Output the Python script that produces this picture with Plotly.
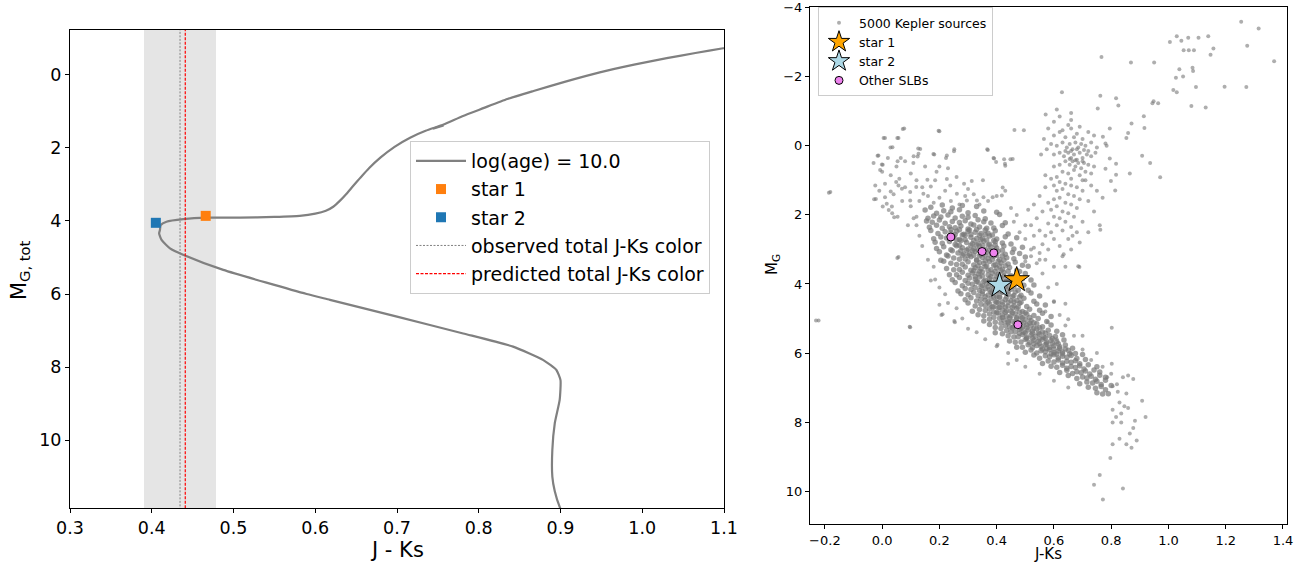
import plotly.graph_objects as go

# ---------------- Left panel data (isochrone, stars) ----------------
iso_jk = [0.905, 0.899, 0.893, 0.890, 0.890, 0.893, 0.899, 0.900, 0.895, 0.879, 0.842, 0.781,
          0.700, 0.618, 0.5895, 0.4875, 0.439, 0.4223, 0.412, 0.409, 0.410, 0.411, 0.418, 0.4386,
          0.467, 0.508, 0.550, 0.581, 0.600, 0.613, 0.622, 0.630, 0.638, 0.646, 0.655, 0.666,
          0.680, 0.697, 0.716, 0.735, 0.757, 0.780, 0.8056, 0.835, 0.867, 0.905, 0.948, 0.990,
          1.030, 1.065, 1.099, 1.13]
iso_mg = [12.10, 11.83, 11.40, 11.00, 10.27, 9.54, 8.90, 8.36, 8.08, 7.81, 7.44, 7.08,
          6.62, 6.16, 6.00, 5.34, 4.93, 4.75, 4.52, 4.34, 4.25, 4.11, 4.02, 3.95,
          3.91, 3.91, 3.89, 3.86, 3.80, 3.72, 3.61, 3.45, 3.26, 3.05, 2.82, 2.55,
          2.26, 1.97, 1.72, 1.53, 1.36, 1.13, 0.91, 0.66, 0.44, 0.19, -0.07, -0.28,
          -0.46, -0.60, -0.73, -0.84]
iso_blip_jk = [0.744, 0.757]
iso_blip_mg = [1.47, 1.385]

star1_jk_left, star1_mg_left = [0.466], [3.86]
star2_jk_left, star2_mg_left = [0.405], [4.05]
obs_color = 0.4346
pred_color = 0.441
color_band = [0.3905, 0.4786]

left_xticks = [0.3, 0.4, 0.5, 0.6, 0.7, 0.8, 0.9, 1.0, 1.1]
left_xtick_text = ["0.3", "0.4", "0.5", "0.6", "0.7", "0.8", "0.9", "1.0", "1.1"]
left_yticks = [0, 2, 4, 6, 8, 10]

# ---------------- Right panel data (Kepler CMD) ----------------
kepler_ms_rows = [
    (0.17,1.78),(0.21,1.71),(0.245,1.80),(0.28,1.73),(0.33,1.76),
    (0.15,1.86),(0.19,1.95),(0.215,1.88),(0.24,1.91),(0.27,1.85),(0.30,1.94),(0.355,1.89),(0.40,1.92),
    (0.16,2.10),(0.18,2.03),(0.205,2.06),(0.23,2.00),(0.255,2.09),(0.28,2.04),(0.30,2.07),(0.325,2.02),(0.36,2.11),(0.41,1.99),
    (0.155,2.18),(0.175,2.21),(0.2,2.15),(0.22,2.24),(0.245,2.19),(0.27,2.22),(0.29,2.17),(0.31,2.26),(0.335,2.14),(0.355,2.20),(0.38,2.235),(0.43,2.23),
    (0.165,2.36),(0.19,2.30),(0.21,2.39),(0.235,2.34),(0.255,2.37),(0.275,2.32),(0.30,2.41),(0.32,2.29),(0.34,2.35),(0.365,2.385),(0.39,2.38),(0.42,2.31),
    (0.17,2.45),(0.195,2.54),(0.22,2.49),(0.24,2.52),(0.26,2.47),(0.285,2.56),(0.305,2.44),(0.325,2.50),(0.345,2.535),(0.37,2.53),(0.395,2.46),(0.44,2.55),
    (0.18,2.69),(0.205,2.64),(0.225,2.67),(0.25,2.62),(0.27,2.71),(0.29,2.59),(0.31,2.65),(0.33,2.685),(0.35,2.68),(0.375,2.61),(0.40,2.70),(0.43,2.63),(0.47,2.66),
    (0.185,2.79),(0.21,2.82),(0.235,2.77),(0.255,2.86),(0.275,2.74),(0.295,2.80),(0.315,2.835),(0.335,2.83),(0.355,2.76),(0.375,2.85),(0.395,2.78),(0.42,2.81),(0.45,2.84),
    (0.19,2.97),(0.215,2.92),(0.24,3.01),(0.26,2.89),(0.28,2.95),(0.30,2.985),(0.32,2.98),(0.34,2.91),(0.36,3.00),(0.38,2.93),(0.40,2.96),(0.425,2.90),(0.46,2.99),(0.49,2.94),
    (0.2,3.07),(0.225,3.16),(0.245,3.04),(0.265,3.10),(0.285,3.135),(0.305,3.13),(0.325,3.06),(0.345,3.15),(0.365,3.08),(0.385,3.11),(0.405,3.05),(0.43,3.14),(0.455,3.09),(0.48,3.12),
    (0.205,3.31),(0.23,3.19),(0.25,3.25),(0.27,3.285),(0.29,3.28),(0.31,3.21),(0.33,3.30),(0.35,3.23),(0.37,3.26),(0.39,3.20),(0.41,3.29),(0.435,3.24),(0.46,3.27),(0.5,3.22),
    (0.215,3.34),(0.24,3.40),(0.26,3.435),(0.28,3.43),(0.30,3.36),(0.32,3.45),(0.34,3.38),(0.355,3.41),(0.375,3.35),(0.395,3.44),(0.415,3.39),(0.44,3.42),(0.465,3.37),(0.49,3.46),
    (0.225,3.55),(0.25,3.585),(0.27,3.58),(0.29,3.51),(0.31,3.60),(0.325,3.53),(0.345,3.56),(0.36,3.50),(0.38,3.59),(0.40,3.54),(0.42,3.57),(0.445,3.52),(0.47,3.61),(0.51,3.49),
    (0.235,3.735),(0.26,3.73),(0.28,3.66),(0.30,3.75),(0.315,3.68),(0.335,3.71),(0.35,3.65),(0.37,3.74),(0.385,3.69),(0.405,3.72),(0.425,3.67),(0.45,3.76),(0.48,3.64),(0.5,3.70),
    (0.245,3.88),(0.27,3.81),(0.29,3.90),(0.305,3.83),(0.325,3.86),(0.34,3.80),(0.36,3.89),(0.375,3.84),(0.395,3.87),(0.415,3.82),(0.435,3.91),(0.455,3.79),(0.49,3.85),(0.52,3.885),
    (0.255,3.96),(0.28,4.05),(0.30,3.98),(0.315,4.01),(0.335,3.95),(0.35,4.04),(0.365,3.99),(0.385,4.02),(0.40,3.97),(0.42,4.06),(0.44,3.94),(0.465,4.00),(0.495,4.035),(0.53,4.03),
    (0.265,4.20),(0.29,4.13),(0.31,4.16),(0.325,4.10),(0.34,4.19),(0.36,4.14),(0.375,4.17),(0.39,4.12),(0.41,4.21),(0.43,4.09),(0.45,4.15),(0.475,4.185),(0.51,4.18),
    (0.275,4.28),(0.30,4.31),(0.32,4.25),(0.335,4.34),(0.35,4.29),(0.37,4.32),(0.385,4.27),(0.40,4.36),(0.42,4.24),(0.44,4.30),(0.46,4.335),(0.485,4.33),(0.52,4.26),(0.55,4.35),
    (0.29,4.46),(0.31,4.40),(0.33,4.49),(0.345,4.44),(0.36,4.47),(0.38,4.42),(0.395,4.51),(0.41,4.39),(0.43,4.45),(0.45,4.485),(0.47,4.48),(0.495,4.41),(0.53,4.50),
    (0.30,4.55),(0.325,4.64),(0.345,4.59),(0.36,4.62),(0.375,4.57),(0.39,4.66),(0.405,4.54),(0.42,4.60),(0.44,4.635),(0.46,4.63),(0.48,4.56),(0.505,4.65),(0.54,4.58),(0.57,4.61),
    (0.315,4.79),(0.34,4.74),(0.36,4.77),(0.375,4.72),(0.39,4.81),(0.405,4.69),(0.42,4.75),(0.435,4.785),(0.45,4.78),(0.47,4.71),(0.49,4.80),(0.515,4.73),(0.55,4.76),
    (0.335,4.89),(0.355,4.92),(0.375,4.87),(0.39,4.96),(0.405,4.84),(0.42,4.90),(0.435,4.935),(0.45,4.93),(0.465,4.86),(0.485,4.95),(0.505,4.88),(0.53,4.91),(0.56,4.85),(0.59,4.94),
    (0.355,5.07),(0.375,5.02),(0.395,5.11),(0.41,4.99),(0.425,5.05),(0.44,5.085),(0.455,5.08),(0.47,5.01),(0.485,5.10),(0.50,5.03),(0.52,5.06),(0.545,5.00),(0.575,5.09),
    (0.375,5.17),(0.395,5.26),(0.415,5.14),(0.43,5.20),(0.445,5.235),(0.46,5.23),(0.475,5.16),(0.49,5.25),(0.505,5.18),(0.52,5.21),(0.54,5.15),(0.56,5.24),(0.59,5.19),
    (0.395,5.41),(0.415,5.29),(0.435,5.35),(0.45,5.385),(0.465,5.38),(0.48,5.31),(0.495,5.40),(0.51,5.33),(0.525,5.36),(0.54,5.30),(0.56,5.39),(0.58,5.34),(0.61,5.37),
    (0.42,5.44),(0.44,5.50),(0.46,5.535),(0.475,5.53),(0.49,5.46),(0.505,5.55),(0.52,5.48),(0.535,5.51),(0.55,5.45),(0.565,5.54),(0.585,5.49),(0.605,5.52),(0.63,5.47),
    (0.445,5.65),(0.465,5.685),(0.485,5.68),(0.50,5.61),(0.515,5.70),(0.53,5.63),(0.545,5.66),(0.56,5.60),(0.575,5.69),(0.59,5.64),(0.61,5.67),(0.635,5.62),
    (0.47,5.835),(0.49,5.83),(0.51,5.76),(0.525,5.85),(0.54,5.78),(0.555,5.81),(0.57,5.75),(0.585,5.84),(0.60,5.79),(0.62,5.82),(0.64,5.77),(0.665,5.86),
    (0.50,5.98),(0.52,5.91),(0.54,6.00),(0.555,5.93),(0.57,5.96),(0.585,5.90),(0.60,5.99),(0.615,5.94),(0.63,5.97),(0.65,5.92),(0.675,6.01),
    (0.53,6.06),(0.55,6.15),(0.57,6.08),(0.585,6.11),(0.60,6.05),(0.615,6.14),(0.63,6.09),(0.645,6.12),(0.66,6.07),(0.68,6.16),(0.70,6.04),
    (0.56,6.30),(0.58,6.23),(0.60,6.26),(0.615,6.20),(0.63,6.29),(0.645,6.24),(0.66,6.27),(0.675,6.22),(0.69,6.31),(0.71,6.19),
    (0.59,6.38),(0.61,6.41),(0.63,6.35),(0.645,6.44),(0.66,6.39),(0.675,6.42),(0.69,6.37),(0.705,6.46),(0.72,6.34),(0.75,6.40),
    (0.62,6.56),(0.645,6.50),(0.665,6.59),(0.68,6.54),(0.695,6.57),(0.71,6.52),(0.725,6.61),(0.74,6.49),(0.76,6.55),
    (0.65,6.65),(0.68,6.74),(0.70,6.69),(0.715,6.72),(0.73,6.67),(0.745,6.76),(0.76,6.64),(0.78,6.70),
    (0.69,6.89),(0.715,6.84),(0.735,6.87),(0.75,6.82),(0.765,6.91),(0.78,6.79),
    (0.72,6.99),(0.745,7.02),(0.765,6.97),(0.78,7.06),(0.80,6.94),
    (0.75,7.15),(0.77,7.185),(0.79,7.18),
]
kepler_ms_core = [
    (0.24,2.42),(0.27,2.43),(0.30,2.47),(0.33,2.42),(0.36,2.44),
    (0.255,2.57),(0.28,2.58),(0.31,2.57),(0.34,2.59),(0.36,2.57),(0.385,2.58),
    (0.26,2.73),(0.29,2.72),(0.32,2.74),(0.345,2.72),(0.365,2.73),(0.39,2.74),
    (0.27,2.88),(0.31,2.88),(0.33,2.87),(0.35,2.88),(0.37,2.87),(0.395,2.88),
    (0.275,3.03),(0.295,3.02),(0.315,3.03),(0.335,3.02),(0.355,3.03),(0.375,3.02),(0.395,3.03),(0.42,3.02),
    (0.28,3.17),(0.30,3.18),(0.32,3.17),(0.34,3.18),(0.36,3.17),(0.38,3.18),(0.40,3.17),(0.42,3.18),
    (0.33,3.32),(0.36,3.33),(0.385,3.30),(0.405,3.34),(0.425,3.31),
    (0.335,3.47),(0.365,3.48),(0.39,3.46),(0.41,3.49),(0.43,3.47),
    (0.32,3.62),(0.34,3.63),(0.37,3.61),(0.395,3.64),(0.415,3.62),(0.44,3.63),
    (0.325,3.78),(0.35,3.77),(0.38,3.79),(0.40,3.78),(0.425,3.77),(0.445,3.78),
    (0.33,3.93),(0.355,3.92),(0.375,3.94),(0.41,3.93),(0.43,3.92),(0.455,3.93),
    (0.345,4.07),(0.37,4.08),(0.395,4.07),(0.415,4.08),(0.44,4.07),(0.46,4.08),
    (0.35,4.22),(0.38,4.23),(0.40,4.22),(0.42,4.23),(0.44,4.22),(0.465,4.23),
    (0.36,4.37),(0.39,4.38),(0.41,4.37),(0.435,4.38),(0.455,4.37),(0.48,4.38),
    (0.37,4.52),(0.40,4.53),(0.42,4.52),(0.44,4.53),(0.46,4.52),(0.485,4.53),
    (0.385,4.67),(0.41,4.68),(0.43,4.67),(0.455,4.68),(0.475,4.67),
    (0.40,4.83),(0.43,4.82),(0.455,4.83),(0.48,4.82),(0.50,4.83),
    (0.42,4.97),(0.445,4.98),(0.47,4.97),(0.49,4.98),(0.515,4.97),
    (0.44,5.12),(0.465,5.13),(0.495,5.12),(0.515,5.13),(0.53,5.12),
    (0.455,5.27),(0.485,5.28),(0.505,5.27),(0.53,5.28),(0.55,5.27),
    (0.48,5.43),(0.50,5.42),(0.525,5.43),(0.545,5.42),(0.57,5.43),
    (0.505,5.58),(0.525,5.57),(0.55,5.58),(0.57,5.57),(0.595,5.58),
    (0.53,5.73),(0.55,5.72),(0.575,5.73),(0.595,5.72),(0.615,5.73),
    (0.56,5.88),(0.575,5.87),(0.60,5.88),(0.62,5.87),(0.64,5.88),
    (0.59,6.02),(0.61,6.03),(0.63,6.02),(0.655,6.03),
]
kepler_ms_edges = [
    (0.12,2.3),(0.13,2.6),(0.14,2.9),(0.11,2.1),(0.16,3.3),(0.18,3.5),(0.17,3.9),(0.20,4.1),
    (0.22,4.3),(0.2,4.6),(0.23,4.55),(0.26,4.7),(0.28,5.0),(0.30,5.3),(0.33,5.4),(0.36,5.6),
    (0.4,5.8),(0.44,6.0),(0.47,6.2),(0.5,6.4),(0.55,6.6),(0.6,6.8),(0.65,7.0),
    (0.52,3.0),(0.55,3.3),(0.56,3.7),(0.58,4.1),(0.6,4.5),(0.62,4.9),(0.64,5.2),(0.67,5.5),
    (0.7,5.9),(0.73,6.2),(0.77,6.4),(0.8,6.6),(0.82,6.9),(0.53,2.6),(0.5,2.3),(0.47,2.0),
    (0.45,1.8),(0.57,4.8),(0.61,5.6),(0.66,6.0),(0.75,6.0),(0.7,5.5),(0.61,4.0),(0.64,4.57),
    (0.65,5.02),(0.6,4.52),(0.578,5.10),(0.685,3.49),
]
kepler_subgiants = [
    (0.50,3.35),(0.52,3.2),(0.54,3.4),(0.55,3.1),(0.53,2.95),(0.56,2.85),(0.58,3.0),(0.57,2.6),
    (0.55,2.45),(0.59,2.5),(0.60,2.7),(0.62,2.9),(0.58,2.25),(0.61,2.3),(0.63,2.45),(0.60,2.05),
    (0.62,2.1),(0.64,2.2),(0.66,2.35),(0.59,1.85),(0.61,1.75),(0.63,1.9),(0.65,1.95),(0.67,2.05),
    (0.60,1.55),(0.62,1.5),(0.64,1.65),(0.66,1.7),(0.68,1.8),(0.61,1.3),(0.63,1.25),(0.65,1.4),
    (0.67,1.45),(0.69,1.55),(0.62,1.05),(0.64,1.1),(0.66,1.15),(0.68,1.2),(0.70,1.3),(0.72,1.6),
    (0.56,1.9),(0.54,2.1),(0.52,2.3),(0.57,3.3),(0.60,3.5),(0.63,3.2),(0.65,2.7),(0.68,2.5),
    (0.70,2.2),(0.74,1.9),(0.71,1.0),(0.73,1.15),(0.53,1.7),(0.55,1.45),(0.57,1.2),(0.51,1.85),
    (0.48,2.5),(0.50,2.7),(0.46,2.2),(0.58,1.65),(0.60,1.15),(0.59,0.95),(0.57,0.85),(0.75,1.3),
    (0.77,1.5),(0.66,3.0),(0.64,3.5),(0.69,2.8),(0.72,2.5),(0.76,2.3),
]
kepler_clump = [
    (0.60,-0.3),(0.62,-0.4),(0.64,-0.25),(0.66,-0.5),(0.68,-0.35),(0.70,-0.2),(0.72,-0.4),(0.65,-0.6),(0.69,-0.55),
    (0.59,-0.05),(0.61,0.0),(0.63,-0.1),(0.645,0.05),(0.655,-0.05),(0.665,0.1),(0.675,-0.1),(0.685,0.05),
    (0.695,-0.05),(0.71,0.0),(0.73,-0.1),(0.75,0.05),
    (0.60,0.25),(0.62,0.2),(0.635,0.3),(0.65,0.2),(0.66,0.35),(0.67,0.25),(0.68,0.4),(0.69,0.2),(0.70,0.35),
    (0.715,0.25),(0.73,0.3),(0.745,0.2),(0.64,0.45),
    (0.655,0.55),(0.665,0.45),(0.675,0.6),(0.685,0.5),(0.695,0.65),(0.705,0.5),(0.72,0.55),(0.74,0.6),(0.62,0.55),(0.60,0.6),
    (0.63,0.75),(0.65,0.8),(0.67,0.7),(0.69,0.85),(0.71,0.75),(0.73,0.8),(0.61,0.9),(0.66,0.95),(0.70,1.0),
    (0.68,0.1),(0.66,0.15),(0.70,0.45),(0.64,0.15),(0.72,0.15),(0.675,0.42),(0.655,0.38),(0.705,0.12),
    (0.67,-0.25),(0.63,-0.45),(0.74,-0.3),(0.565,-0.2),(0.575,0.1),(0.555,0.25),(0.58,-0.5),(0.60,-0.7),
    (0.62,-0.85),(0.66,-0.75),(0.66,-0.95),
]
kepler_sparse_upper = [
    (0.077,-0.50),(0.010,-0.23),(0.057,-0.23),(0.200,-0.42),(0.036,0.04),(-0.013,0.28),(0.002,0.55),
    (0.054,0.45),(0.065,0.35),(-0.007,0.70),(-0.024,1.15),(-0.022,1.54),(0.010,1.49),(0.030,1.32),
    (0.057,1.15),(0.069,1.24),(0.049,1.05),(0.034,1.76),(0.054,2.05),(0.016,1.68),(0.133,0.09),
    (0.109,0.50),(0.127,0.23),(0.182,0.25),(0.226,0.28),(0.251,0.16),(0.200,0.60),(0.158,0.98),
    (0.119,1.19),(0.098,1.34),(0.098,1.58),(0.144,1.39),(0.170,1.18),(0.185,1.00),(0.226,0.96),
    (0.238,1.15),(0.261,1.39),(0.286,1.10),(0.313,1.02),(0.352,1.00),(0.369,0.12),(0.389,0.35),
    (0.398,0.47),(0.426,0.39),(0.456,0.38),(0.462,-0.46),(0.429,0.52),(0.421,1.21),(0.386,1.49),
    (0.418,1.44),(0.354,1.49),(0.331,1.58),(0.296,1.58),(-0.181,1.34),(0.057,3.22),(0.098,5.25),
    (-0.222,5.06),(0.211,4.88),(0.252,5.07),
    (0.0,0.75),(0.03,0.85),(0.06,0.95),(0.08,1.2),(0.04,1.4),(0.01,1.1),(0.1,0.8),(0.12,1.0),
    (0.14,1.2),(0.16,1.45),(0.13,1.6),(0.1,1.75),(0.18,1.65),(0.2,1.5),(0.22,1.3),(0.24,1.6),
    (0.27,1.7),(0.29,1.45),(0.05,0.6),(0.08,0.45),(0.11,0.3),(0.15,0.6),(0.19,0.75),(0.23,0.65),
    (0.26,0.9),(0.3,1.25),(0.32,1.4),(0.34,1.7),(0.37,1.6),(0.4,1.45),(0.43,1.3),(0.02,0.35),
    (-0.03,0.5),(0.07,1.6),(-0.01,1.3),(0.035,1.95),(0.12,2.05),(0.09,2.3),
]
kepler_giants = [
    (1.254,-3.59),(1.315,-3.40),(1.275,-2.90),(1.369,-2.45),(1.005,-3.01),(1.029,-3.17),(1.045,-3.04),
    (1.069,-3.13),(1.105,-3.13),(1.139,-3.17),(1.053,-2.77),(1.071,-2.77),(1.089,-2.77),(1.157,-2.82),
    (1.147,-2.64),(1.084,-2.26),(1.086,-2.17),(1.038,-2.22),(1.051,-2.01),(1.026,-1.97),(1.096,-1.70),
    (1.196,-1.71),(1.272,-1.70),(1.017,-1.62),(1.029,-1.55),(1.080,-1.15),(1.130,-1.11),(0.948,-1.29),
    (0.944,-1.23),(0.964,-1.23),(0.950,-2.41),(0.869,-2.41),(0.766,-2.57),(0.628,-1.55),(0.762,-1.45),
    (0.817,-1.38),(0.753,-1.08),(0.825,-1.17),(0.610,-1.05),(0.571,-0.91),(0.914,-0.86),(0.871,-0.65),
    (0.916,-0.52),(0.859,-0.37),(0.853,-0.23),(0.795,-0.50),(0.771,-0.26),(0.780,-0.07),(0.784,0.0),
    (0.908,0.29),(0.936,0.50),(0.971,0.91),(0.865,0.80),(0.817,0.52),(0.817,0.84),(0.795,0.37),
    (0.780,0.66),(0.814,1.29),(0.799,1.02),(0.495,-0.45),(0.448,0.39),(0.430,0.58),(0.391,0.37),
    (0.367,0.10),(0.252,0.10),(0.223,0.35),(0.197,-0.44),(0.179,0.24),(0.126,0.08),(0.124,0.31),
    (0.072,-0.49),(0.053,-0.23),(0.029,0.05),(0.005,-0.23),(-0.016,0.29),(-0.001,0.54),(-0.028,1.55),
    (0.002,1.76),(0.023,1.86),(0.042,2.07),(-0.186,1.36),(-0.231,5.06),(0.096,5.24),(0.053,3.25),
    (0.185,3.87),(0.207,4.90),(0.254,5.11),(0.403,5.76),(0.440,6.31),(0.762,2.43),(0.689,3.51),
    (0.634,3.14),(0.665,2.60),(0.802,5.27),(0.802,6.31),
]
kepler_lower_ms = [
    (0.786,6.70),(0.805,6.96),(0.823,7.12),(0.841,6.70),(0.859,6.65),(0.877,6.75),(0.853,7.17),
    (0.829,7.43),(0.846,7.54),(0.859,7.59),(0.805,7.64),(0.817,7.85),(0.835,7.75),(0.908,7.38),
    (0.920,7.85),(0.883,7.96),(0.877,8.17),(0.889,8.53),(0.871,8.74),(0.853,8.64),(0.829,8.48),
    (0.805,8.64),(0.835,8.01),(0.805,8.01),(0.797,9.04),(0.760,9.53),(0.740,9.81),(0.841,9.92),
    (0.771,10.24),(0.865,8.33),
]

star1_jk, star1_mg = [0.470], [3.88]
star2_jk, star2_mg = [0.410], [4.04]
slb_jk = [0.240, 0.349, 0.390, 0.474]
slb_mg = [2.64, 3.06, 3.10, 5.18]

right_xticks = [-0.2, 0.0, 0.2, 0.4, 0.6, 0.8, 1.0, 1.2, 1.4]
right_xtick_text = ["\u22120.2", "0.0", "0.2", "0.4", "0.6", "0.8", "1.0", "1.2", "1.4"]
right_yticks = [-4, -2, 0, 2, 4, 6, 8, 10]
right_ytick_text = ["\u22124", "\u22122", "0", "2", "4", "6", "8", "10"]

kepler_dense = kepler_ms_rows + kepler_ms_core
kepler_rest = (kepler_ms_edges + kepler_subgiants + kepler_clump + kepler_sparse_upper +
               kepler_giants + kepler_lower_ms)

FONT = "DejaVu Sans"
W, H = 1315, 568


def fx(px):
    return px / W


def fy(py):
    return 1 - py / H


fig = go.Figure()

# ---- left panel ----
fig.add_trace(go.Scatter(x=iso_jk, y=iso_mg, mode="lines", name="log(age) = 10.0", legendgroup="a",
                         line=dict(color="#808080", width=2.2, shape="spline", smoothing=0.5),
                         xaxis="x", yaxis="y", legend="legend"))
fig.add_trace(go.Scatter(x=iso_blip_jk, y=iso_blip_mg, mode="lines", showlegend=False, legendgroup="a",
                         line=dict(color="#808080", width=2.2), xaxis="x", yaxis="y", legend="legend"))
fig.add_trace(go.Scatter(x=star1_jk_left, y=star1_mg_left, mode="markers", name="star 1", legendgroup="b",
                         marker=dict(symbol="square", size=10, color="#ff7f0e"), xaxis="x", yaxis="y", legend="legend"))
fig.add_trace(go.Scatter(x=star2_jk_left, y=star2_mg_left, mode="markers", name="star 2", legendgroup="c",
                         marker=dict(symbol="square", size=10, color="#1f77b4"), xaxis="x", yaxis="y", legend="legend"))
fig.add_trace(go.Scatter(x=[obs_color, obs_color], y=[-3, 14], mode="lines", name="observed total J-Ks color",
                         legendgroup="d",
                         line=dict(color="#808080", width=1, dash="2px,1.5px"), xaxis="x", yaxis="y", legend="legend"))
fig.add_trace(go.Scatter(x=[pred_color, pred_color], y=[-3, 14], mode="lines", name="predicted total J-Ks color",
                         legendgroup="e",
                         line=dict(color="#ff0000", width=1.2, dash="3px,1.5px"), xaxis="x", yaxis="y", legend="legend"))

# ---- right panel ----
fig.add_trace(go.Scatter(x=[p[0] for p in kepler_rest], y=[p[1] for p in kepler_rest], mode="markers",
                         name="5000 Kepler sources", legendgroup="k",
                         marker=dict(size=4, color="rgba(120,120,120,0.6)", line=dict(width=0)),
                         xaxis="x2", yaxis="y2", legend="legend2"))
fig.add_trace(go.Scatter(x=[p[0] for p in kepler_dense], y=[p[1] for p in kepler_dense], mode="markers",
                         name="5000 Kepler sources", legendgroup="k", showlegend=False,
                         marker=dict(size=5.5, color="rgba(120,120,120,0.7)", line=dict(width=0)),
                         xaxis="x2", yaxis="y2", legend="legend2"))
fig.add_trace(go.Scatter(x=star1_jk, y=star1_mg, mode="markers", name="star 1", legendgroup="s1",
                         marker=dict(symbol="star", size=19, color="orange", line=dict(color="black", width=1)),
                         xaxis="x2", yaxis="y2", legend="legend2"))
fig.add_trace(go.Scatter(x=star2_jk, y=star2_mg, mode="markers", name="star 2", legendgroup="s2",
                         marker=dict(symbol="star", size=19, color="lightblue", line=dict(color="black", width=1)),
                         xaxis="x2", yaxis="y2", legend="legend2"))
fig.add_trace(go.Scatter(x=slb_jk, y=slb_mg, mode="markers", name="Other SLBs", legendgroup="o",
                         marker=dict(symbol="circle", size=8, color="violet", line=dict(color="black", width=1)),
                         xaxis="x2", yaxis="y2", legend="legend2"))

axis_common = dict(showline=True, linecolor="black", linewidth=1, mirror=True, ticks="outside",
                   ticklen=4, tickwidth=1, tickcolor="black", showgrid=False, zeroline=False,
                   automargin=False)

fig.update_layout(
    template="none",
    width=W, height=H,
    margin=dict(l=0, r=0, t=0, b=0, pad=0, autoexpand=False),
    paper_bgcolor="white", plot_bgcolor="white",
    font=dict(family=FONT, color="black"),
    xaxis=dict(domain=[fx(70), fx(724)], range=[0.3, 1.1], tickvals=left_xticks, ticktext=left_xtick_text,
               tickfont=dict(size=17.5), anchor="y", **axis_common),
    yaxis=dict(domain=[fy(508), fy(30)], range=[11.86, -1.23], tickvals=left_yticks,
               tickfont=dict(size=17.5), anchor="x", **axis_common),
    xaxis2=dict(domain=[fx(810), fx(1287)], range=[-0.252, 1.414], tickvals=right_xticks, ticktext=right_xtick_text,
                tickfont=dict(size=13), anchor="y2", **axis_common),
    yaxis2=dict(domain=[fy(524), fy(7)], range=[10.95, -4.02], tickvals=right_yticks, ticktext=right_ytick_text,
                tickfont=dict(size=13), anchor="x2", **axis_common),
    legend=dict(x=fx(410), y=fy(141), xanchor="left", yanchor="top", bgcolor="white",
                bordercolor="#cccccc", borderwidth=1, font=dict(size=19, family=FONT),
                itemwidth=50, tracegroupgap=0.5),
    legend2=dict(x=fx(818), y=fy(7), xanchor="left", yanchor="top", bgcolor="white",
                 bordercolor="#cccccc", borderwidth=1, font=dict(size=12.5, family=FONT),
                 tracegroupgap=0),
    shapes=[dict(type="rect", xref="x", yref="y domain", x0=color_band[0], x1=color_band[1], y0=0, y1=1,
                 fillcolor="rgb(229,229,229)", line=dict(width=0), layer="below")],
    annotations=[
        dict(text="J - Ks", x=fx(397), y=fy(550), xref="paper", yref="paper", showarrow=False,
             xanchor="center", yanchor="middle", font=dict(size=21)),
        dict(text="M<sub>G, tot</sub>", x=fx(20), y=fy(270), xref="paper", yref="paper", showarrow=False,
             xanchor="center", yanchor="middle", textangle=-90, font=dict(size=21)),
        dict(text="J-Ks", x=fx(1048), y=fy(554), xref="paper", yref="paper", showarrow=False,
             xanchor="center", yanchor="middle", font=dict(size=15)),
        dict(text="M<sub>G</sub>", x=fx(772), y=fy(265), xref="paper", yref="paper", showarrow=False,
             xanchor="center", yanchor="middle", textangle=-90, font=dict(size=15)),
    ],
)

# remove the browser's default 8 px page margin so the figure fills the window exactly
fig.write_html("out.html", config={"displayModeBar": False},
               post_script="document.body.style.margin='0px';")
